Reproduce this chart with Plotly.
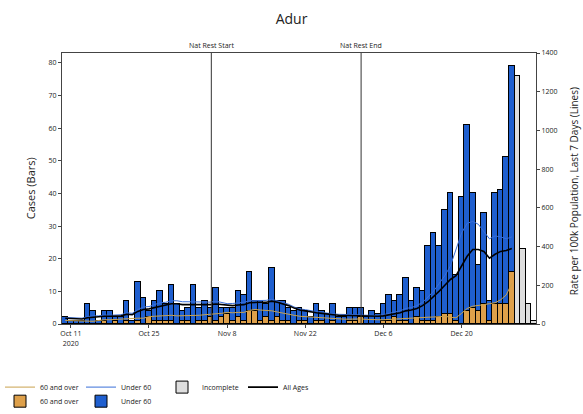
import pandas as pd
import plotly.graph_objects as go

# ---- data ----
days = pd.date_range("2020-10-10", "2020-12-29", freq="D")
incomplete_days = pd.date_range("2020-12-30", "2021-01-02", freq="D")

under_60_cases = [2, 1, 1, 1, 6, 4, 1, 3,
                  4, 1, 2, 6, 1, 12, 8,
                  2, 6, 9, 5, 11, 6, 3,
                  4, 12, 4, 6, 3, 10, 3,
                  2, 4, 8, 8, 12, 3, 6,
                  4, 16, 5, 6, 4, 4, 4,
                  3, 2, 5, 3, 3, 5, 2,
                  2, 4, 4, 3, 2, 4, 3,
                  5, 8, 5, 8, 13, 7, 9,
                  9, 23, 27, 22, 32, 37, 14,
                  39, 57, 35, 14, 28, 6, 34,
                  35, 45, 63]
over_60_cases = [0, 0, 0, 0, 0, 0, 0, 1,
                 0, 1, 0, 1, 0, 1, 0,
                 2, 1, 1, 1, 1, 0, 1,
                 1, 0, 1, 1, 2, 1, 2,
                 3, 1, 2, 1, 4, 4, 1,
                 2, 1, 2, 1, 1, 0, 1,
                 1, 0, 1, 1, 0, 1, 0,
                 0, 1, 1, 2, 0, 0, 0,
                 1, 1, 2, 1, 1, 0, 2,
                 1, 1, 1, 2, 3, 3, 1,
                 0, 4, 5, 4, 6, 1, 6,
                 6, 6, 16]
incomplete_cases = [76, 23, 6, 1]

rate_all = [30, 28, 27, 26, 32, 35, 36, 40,
            40, 40, 42, 50, 48, 65, 75,
            78, 85, 95, 98, 105, 105, 100,
            100, 100, 98, 100, 100, 103, 100,
            95, 95, 98, 100, 110, 112, 112,
            112, 118, 112, 105, 95, 82, 72,
            68, 62, 58, 55, 50, 48, 45,
            44, 44, 43, 42, 42, 40, 40,
            42, 48, 52, 58, 68, 72, 80,
            95, 115, 140, 170, 200, 230, 250,
            300, 350, 385, 385, 375, 340, 360,
            375, 380, 390]
rate_under_60 = [34, 32, 30, 30, 38, 42, 42, 46,
                 45, 45, 48, 58, 55, 75, 88,
                 90, 98, 110, 112, 120, 120, 115,
                 115, 115, 112, 115, 113, 118, 112,
                 105, 106, 110, 112, 120, 120, 122,
                 122, 128, 120, 112, 102, 88, 78,
                 74, 68, 64, 60, 55, 52, 50,
                 50, 50, 48, 46, 46, 44, 44,
                 48, 55, 60, 68, 80, 85, 95,
                 112, 140, 170, 210, 250, 300, 380,
                 470, 520, 530, 515, 480, 440, 455,
                 450, 440, 450]
rate_over_60 = [18, 18, 16, 15, 15, 14, 18, 22,
                22, 24, 25, 28, 28, 30, 30,
                38, 40, 42, 45, 45, 42, 42,
                45, 45, 45, 48, 50, 52, 55,
                60, 58, 60, 60, 70, 75, 72,
                70, 68, 62, 55, 50, 45, 40,
                38, 35, 32, 30, 28, 28, 26,
                25, 25, 26, 26, 24, 22, 22,
                22, 24, 26, 28, 30, 32, 32,
                34, 35, 36, 38, 40, 35, 32,
                55, 80, 92, 95, 100, 105, 110,
                125, 150, 210]

tick_dates = ["2020-10-11", "2020-10-25", "2020-11-08", "2020-11-22", "2020-12-06", "2020-12-20"]
tick_labels = ["Oct 11<br>2020", "Oct 25", "Nov 8", "Nov 22", "Dec 6", "Dec 20"]
events = [("2020-11-05 04:00", "Nat Rest Start"), ("2020-12-02", "Nat Rest End")]

FONT = "Open Sans"
ORANGE = "#dea04a"
BLUE = "#1f5fcf"
DAY_MS = 86400000

fig = go.Figure()

fig.add_trace(go.Bar(x=days, y=over_60_cases, name="60 and over", width=DAY_MS,
                     marker=dict(color=ORANGE, line=dict(color="black", width=1)),
                     legend="legend2"))
fig.add_trace(go.Bar(x=days, y=under_60_cases, name="Under 60", width=DAY_MS,
                     marker=dict(color=BLUE, line=dict(color="black", width=1)),
                     legend="legend2"))

fig.add_trace(go.Scatter(x=days, y=rate_over_60, name="60 and over", yaxis="y2",
                         mode="lines", line=dict(color="#c9a24e", width=1)))
fig.add_trace(go.Scatter(x=days, y=rate_under_60, name="Under 60", yaxis="y2",
                         mode="lines", line=dict(color="#3a6fd8", width=1)))
fig.add_trace(go.Bar(x=incomplete_days, y=incomplete_cases, name="Incomplete", width=DAY_MS,
                     marker=dict(color="#dedede", line=dict(color="black", width=1))))
fig.add_trace(go.Scatter(x=days, y=rate_all, name="All Ages", yaxis="y2",
                         mode="lines", line=dict(color="black", width=1.6)))

for when, label in events:
    fig.add_shape(type="line", x0=when, x1=when, xref="x", y0=0, y1=1, yref="paper",
                  line=dict(color="#333333", width=1))
    fig.add_annotation(x=when, y=1, xref="x", yref="paper", text=label, showarrow=False,
                       yanchor="bottom", yshift=1, font=dict(size=7, color="#222222"))

# axis titles placed by hand, as in the original
fig.add_annotation(x=-0.066, y=0.5, xref="paper", yref="paper", text="Cases (Bars)",
                   textangle=-90, showarrow=False, xanchor="center", yanchor="middle",
                   font=dict(size=11, color="#222222"))
fig.add_annotation(x=1.08, y=0.49, xref="paper", yref="paper",
                   text="Rate per 100k Population, Last 7 Days (Lines)",
                   textangle=-90, showarrow=False, xanchor="center", yanchor="middle",
                   font=dict(size=10, color="#222222"))

axis_common = dict(showline=True, linecolor="#444444", linewidth=1, ticks="outside",
                   ticklen=3, tickcolor="#444444", showgrid=False, zeroline=False,
                   tickfont=dict(size=7, color="#222222"))

legend_common = dict(orientation="h", xanchor="left", yanchor="top", font=dict(size=7),
                     bgcolor="rgba(0,0,0,0)", itemwidth=30, traceorder="normal",
                     entrywidth=36, xref="container", yref="container")

fig.update_layout(
    width=583, height=414,
    margin=dict(l=62, r=47, t=53, b=90, autoexpand=False),
    paper_bgcolor="white", plot_bgcolor="white",
    font=dict(family=FONT, color="#222222"),
    title=dict(text="Adur", x=0.5, xanchor="center", y=0.955, yanchor="middle",
               font=dict(size=14, color="#222222")),
    barmode="stack", bargap=0,
    xaxis=dict(range=["2020-10-09 10:00", "2021-01-02 08:00"], tickvals=tick_dates,
               ticktext=tick_labels, mirror=True, **axis_common),
    yaxis=dict(range=[0, 83], tickvals=list(range(0, 81, 10)), **axis_common),
    yaxis2=dict(range=[0, 1400], tickvals=list(range(0, 1401, 200)), overlaying="y",
                side="right", **axis_common),
    legend=dict(x=0.0, y=0.1, **legend_common),
    legend2=dict(x=0.0, y=0.066, **legend_common),
    showlegend=True,
)

fig.write_html("out.html", config={"displayModeBar": False},
               post_script="document.body.style.margin='0';")
